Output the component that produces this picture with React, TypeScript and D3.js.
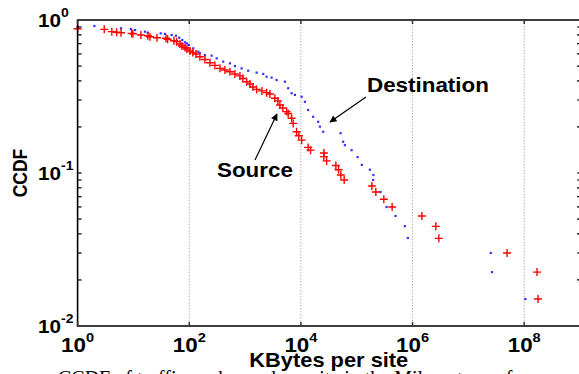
import React from 'react';
import * as d3 from 'd3';

// Source (red +): KBytes per site and CCDF
const srcKB = [1.0, 3.0, 4.1, 5.0, 6.0, 9.3, 9.8, 13.6, 18.2, 19.8, 26.4, 38.3, 41, 53.2, 59.5, 68.1,
  74, 84, 91, 103, 116, 132, 155, 191, 235, 288, 355, 435, 536, 658, 809, 914, 1066, 1227, 1384,
  1610, 2004, 2430, 2786, 3422, 3873, 4207, 4750, 5541, 5925, 6813, 7280, 8370, 9200, 10300,
  13500, 14900, 25800, 25800, 28900, 42300, 47300, 52000, 59600, 187000, 220000, 306000, 431000,
  1.47e6, 2.61e6, 2.96e6, 4.94e7, 1.7e8, 1.77e8];
const srcCCDF = [0.877, 0.869, 0.839, 0.831, 0.826, 0.818, 0.813, 0.798, 0.789, 0.778, 0.766, 0.759,
  0.748, 0.732, 0.722, 0.697, 0.676, 0.661, 0.646, 0.627, 0.613, 0.6, 0.575, 0.552, 0.526, 0.505,
  0.483, 0.471, 0.459, 0.444, 0.431, 0.415, 0.395, 0.382, 0.365, 0.352, 0.344, 0.335, 0.328, 0.308,
  0.296, 0.278, 0.266, 0.252, 0.245, 0.228, 0.211, 0.186, 0.175, 0.164, 0.147, 0.141, 0.135, 0.128,
  0.12, 0.112, 0.105, 0.097, 0.09, 0.0822, 0.0751, 0.0673, 0.06, 0.0524, 0.0448, 0.0374, 0.03,
  0.0225, 0.015];

// Destination (blue dots)
const dstKB = [1.0, 2.0, 6.0, 9.0, 10.7, 16.1, 18.0, 30.8, 36.7, 48.4, 57.8, 66.2, 75, 83.8, 91, 98.8,
  118, 145, 155, 191, 252, 310, 406, 536, 658, 867, 1138, 1610, 2113, 2430, 2986, 3672, 5165, 5925,
  6813, 7810, 10300, 11800, 13500, 16600, 20400, 21900, 25100, 51400, 57200, 61400, 80900, 103600,
  123700, 172000, 199000, 197000, 267000, 342000, 496000, 728000, 824000, 2.52e7, 2.66e7, 1.05e8];
const dstCCDF = [0.904, 0.914, 0.883, 0.873, 0.86, 0.839, 0.826, 0.818, 0.81, 0.798, 0.789, 0.766,
  0.74, 0.715, 0.702, 0.687, 0.653, 0.621, 0.606, 0.59, 0.585, 0.562, 0.534, 0.521, 0.5, 0.483,
  0.466, 0.453, 0.444, 0.426, 0.42, 0.405, 0.395, 0.358, 0.332, 0.324, 0.315, 0.292, 0.258, 0.233,
  0.216, 0.201, 0.186, 0.182, 0.16, 0.152, 0.141, 0.127, 0.113, 0.105, 0.097, 0.09, 0.0751, 0.06,
  0.0524, 0.0449, 0.0376, 0.03, 0.0225, 0.015];

const xTickExp = [0, 2, 4, 6, 8];
const yTickExp = [0, -1, -2];

const W = 579;
const H = 374;
const FONT = 'Liberation Sans, Arial, Helvetica, sans-serif';
const SX = 1.12; // the picture is a bit stretched sideways

const x = d3.scaleLog().domain([1, 1e9]).range([77.6, 580]);
const y = d3.scaleLog().domain([1e-2, 1]).range([326, 20]);

const B = (props: any) => {
  const { x: tx, y: ty, size, anchor, children } = props;
  return (
    <text transform={`translate(${tx},${ty}) scale(${SX},1)`} fontSize={size}
      textAnchor={anchor || 'start'} fontWeight="bold" fontFamily={FONT} fill="#000">
      {children}
    </text>
  );
};

export default function App() {
  const [x0, x1] = x.range();
  const [y0, y1] = y.range();
  const minor: number[] = [];
  [-2, -1].forEach((k) => {
    for (let m = 2; m <= 9; m++) minor.push(m * Math.pow(10, k));
  });
  const src = srcKB.map((d, i) => [x(d), y(srcCCDF[i])]);
  const dst = dstKB.map((d, i) => [x(d), y(dstCCDF[i])]);

  return (
    <svg width={W} height={H} style={{ position: 'fixed', left: 0, top: 0, background: '#fff' }}>
      {/* grid */}
      {xTickExp.slice(1).map((e) => (
        <line key={'g' + e} x1={x(10 ** e)} x2={x(10 ** e)} y1={y1} y2={y0}
          stroke="#b4b4b4" strokeWidth={1} strokeDasharray="1.5,1.5" />
      ))}

      {/* data: destination */}
      {dst.map((p, i) => (
        <rect key={'d' + i} x={p[0] - 1.1} y={p[1] - 1.1} width={2.2} height={2.2} fill="#3030ff" />
      ))}
      {/* data: source */}
      {src.map((p, i) => (
        <path key={'s' + i} d={`M${p[0] - 4},${p[1]}h8M${p[0]},${p[1] - 4}v8`}
          stroke="#ff0000" strokeWidth={1.4} fill="none" />
      ))}

      {/* frame */}
      <path d={`M${x1},${y1}H${x0}V${y0}H${x1}`} stroke="#000" strokeWidth={1.6} fill="none" />

      {/* ticks */}
      {xTickExp.map((e) => (
        <g key={'xt' + e}>
          <line x1={x(10 ** e)} x2={x(10 ** e)} y1={y0} y2={y0 - 4} stroke="#333" strokeWidth={1.5} />
          <line x1={x(10 ** e)} x2={x(10 ** e)} y1={y1} y2={y1 + 4} stroke="#333" strokeWidth={1.5} />
        </g>
      ))}
      {minor.concat([0.1]).map((v, i) => (
        <g key={'yt' + i}>
          <line x1={x0} x2={x0 + 4} y1={y(v)} y2={y(v)} stroke="#000" strokeWidth={1.2} />
          <line x1={x1 - 3} x2={x1} y1={y(v)} y2={y(v)} stroke="#000" strokeWidth={1.2} />
        </g>
      ))}

      {/* tick labels */}
      {xTickExp.map((e) => (
        <B key={'xl' + e} x={x(10 ** e)} y={352} size={20} anchor="middle">
          10<tspan dy={-10} fontSize={13}>{e}</tspan>
        </B>
      ))}
      {yTickExp.map((e) => (
        <B key={'yl' + e} x={38} y={y(10 ** e) + 7} size={18.5}>
          10<tspan dy={-10.5} fontSize={12.5}>{e}</tspan>
        </B>
      ))}

      {/* axis titles */}
      <B x={(x0 + x1) / 2} y={367} size={19.5} anchor="middle">KBytes per site</B>
      <text transform={`translate(26.5,${(y0 + y1) / 2}) rotate(-90) scale(1,${SX})`} fontSize={17.5}
        textAnchor="middle" fontWeight="bold" fontFamily={FONT}>CCDF</text>

      {/* annotations */}
      <B x={367} y={92} size={20}>Destination</B>
      <B x={217} y={177} size={20}>Source</B>
      <defs>
        <marker id="ah" viewBox="0 0 10 10" refX={9} refY={5} markerWidth={9} markerHeight={7}
          markerUnits="userSpaceOnUse" orient="auto">
          <path d="M0,0L10,5L0,10z" fill="#000" />
        </marker>
      </defs>
      <line x1={366} y1={97} x2={330} y2={122} stroke="#000" strokeWidth={1.2} markerEnd="url(#ah)" />
      <line x1={255} y1={160} x2={277} y2={114} stroke="#000" strokeWidth={1.2} markerEnd="url(#ah)" />

      {/* caption, cut off by the page edge */}
      <text x={58} y={385} fontSize={20} fontFamily="Liberation Serif, Times New Roman, serif">
        CCDF of traffic exchanged per site in the Milano trace, for
      </text>
    </svg>
  );
}
